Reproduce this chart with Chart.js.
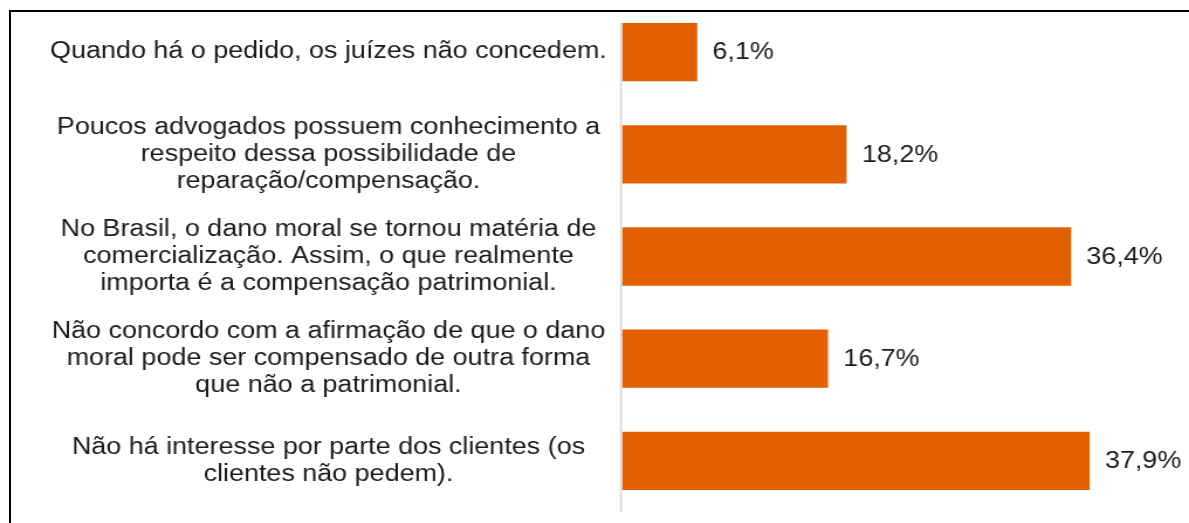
<!DOCTYPE html>
<html>
<head>
<meta charset="utf-8">
<script src="https://cdn.jsdelivr.net/npm/chart.js@4.4.1/dist/chart.umd.min.js"></script>
<style>
    html, body { margin: 0; padding: 0; background: #ffffff; overflow: hidden; }
    #frame
    {
        position: absolute; left: 9px; top: 10px; width: 1300px; height: 700px;
        border-top: 2px solid #000000; border-left: 2px solid #000000;
    }
    /* the source picture is stretched sideways, so the canvas is drawn narrower and widened */
    #graph { position: absolute; left: 0; top: 0; width: 1189px !important; height: 523px !important; }
</style>
</head>
<body>
<div id="frame"></div>
<canvas id="graph" width="1016" height="523"></canvas>
<script>
const categories = [
    ['Quando há o pedido, os juízes não concedem.'],
    ['Poucos advogados possuem conhecimento a', 'respeito dessa possibilidade de', 'reparação/compensação.'],
    ['No Brasil, o dano moral se tornou matéria de', 'comercialização. Assim, o que realmente', 'importa é a compensação patrimonial.'],
    ['Não concordo com a afirmação de que o dano', 'moral pode ser compensado de outra forma', 'que não a patrimonial.'],
    ['Não há interesse por parte dos clientes (os', 'clientes não pedem).']
]
const percentages = [6.1, 18.2, 36.4, 16.7, 37.9]

const FONT = '"Liberation Sans", Arial, sans-serif'
const TEXT_COLOR = '#1a1a1a'
const BAR_COLOR = '#E26000'

// value printed just right of each bar, with a decimal comma
const valueLabels =
{
    id: 'valueLabels',
    afterDatasetsDraw(chart)
    {
        const ctx = chart.ctx
        const meta = chart.getDatasetMeta(0)
        ctx.save()
        ctx.font = '23px ' + FONT
        ctx.fillStyle = TEXT_COLOR
        ctx.textAlign = 'left'
        ctx.textBaseline = 'middle'
        meta.data.forEach((bar, i) =>
        {
            const text = percentages[i].toFixed(1).replace('.', ',') + '%'
            ctx.fillText(text, bar.x + 13, bar.y + 1)
        })
        ctx.restore()
    }
}

// light vertical axis line, starting at the top of the first bar
const axisLine =
{
    id: 'axisLine',
    beforeDatasetsDraw(chart)
    {
        const ctx = chart.ctx
        const first = chart.getDatasetMeta(0).data[0]
        const x = chart.scales.x.getPixelForValue(0) - 0.9
        ctx.save()
        ctx.beginPath()
        ctx.moveTo(x, first.y - first.height / 2)
        ctx.lineTo(x, chart.chartArea.bottom)
        ctx.lineWidth = 1.7
        ctx.strokeStyle = '#d9d9d9'
        ctx.stroke()
        ctx.restore()
    }
}

new Chart(document.querySelector('#graph'),
{
    type: 'bar',
    data:
    {
        labels: categories,
        datasets:
        [
            {
                data: percentages,
                backgroundColor: BAR_COLOR,
                borderWidth: 0,
                barPercentage: 0.57,
                categoryPercentage: 1
            }
        ]
    },
    options:
    {
        indexAxis: 'y',
        responsive: false,
        animation: false,
        devicePixelRatio: 1,
        layout: {padding: {top: 1, bottom: 11, left: 0, right: 10}},
        plugins:
        {
            legend: {display: false},
            tooltip: {enabled: false}
        },
        scales:
        {
            x: {display: false, min: 0, max: 45},
            y:
            {
                grid: {display: false, drawTicks: false},
                border: {display: false},
                ticks:
                {
                    crossAlign: 'center',
                    padding: 13,
                    color: TEXT_COLOR,
                    font: {family: FONT, size: 23, lineHeight: 1.17}
                },
                afterFit(scale)
                {
                    // fixed label column, no extra room kept for label overflow
                    scale.width = 531.5
                    scale.paddingTop = 0
                    scale.paddingBottom = 0
                }
            }
        }
    },
    plugins: [axisLine, valueLabels]
})
</script>
</body>
</html>
